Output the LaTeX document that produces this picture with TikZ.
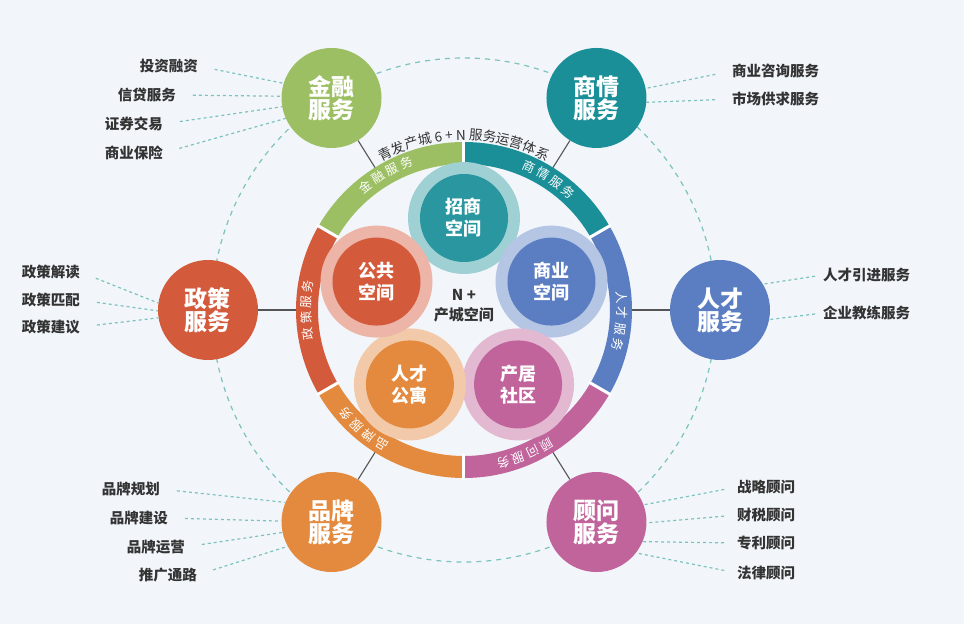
\documentclass[tikz,border=0pt]{standalone}
\usepackage{fontspec}
\setmainfont{Noto Sans CJK SC}
\usetikzlibrary{decorations.text}
\definecolor{cgreen}{HTML}{9CBF63}
\definecolor{cteal}{HTML}{1B8F98}
\definecolor{cblue}{HTML}{5B7EC2}
\definecolor{cpink}{HTML}{C0649B}
\definecolor{corange}{HTML}{E48A3F}
\definecolor{cred}{HTML}{D45A3C}
\definecolor{cspace}{HTML}{2A97A0}
\definecolor{ctext}{HTML}{333333}
\definecolor{cdash}{HTML}{7CC2BE}
\definecolor{clink}{HTML}{555555}
\definecolor{cbg}{HTML}{F2F6FA}
\newcommand\svcfont{\fontsize{23}{23}\selectfont\bfseries}
\newcommand\spcfont{\fontsize{18}{22}\selectfont\bfseries}
\newcommand\itemfont{\fontsize{14.5}{16}\selectfont\bfseries}
\newcommand\ringfont{\fontsize{12.5}{12.5}\selectfont}
\newcommand\titlefont{\fontsize{13.5}{14}\selectfont}
\tikzset{
  every picture/.style={x=1pt, y=1pt},
  svc/.style={circle, fill=#1, minimum size=100pt, inner sep=0pt, align=center, text=white, font=\svcfont},
  halo/.style={circle, fill=#1!45, minimum size=112pt, inner sep=0pt},
  spc/.style={circle, fill=#1, minimum size=88pt, inner sep=0pt, align=center, text=white, font=\spcfont},
  item/.style={inner sep=0pt, text=ctext, font=\itemfont},
  lead/.style={draw=cdash, line width=1.2pt, dash pattern=on 3pt off 3pt, shorten <=17pt},
  orbit/.style={draw=cdash, line width=1.2pt, dash pattern=on 5pt off 5pt},
  link/.style={draw=clink, line width=1.1pt},
  seg/.style={draw=#1, line width=22pt},
}

\begin{document}
\begin{tikzpicture}
  \fill[cbg] (-464,-314) rectangle (500,310);
  \draw[orbit] (0,0) circle[radius=252];

  % ring of six services
  \draw[seg=cgreen]  (150:157) arc[start angle=150, end angle=90, radius=157];
  \draw[seg=cteal]   (90:157) arc[start angle=90, end angle=30, radius=157];
  \draw[seg=cblue]   (30:157) arc[start angle=30, end angle=-30, radius=157];
  \draw[seg=cpink]   (-30:157) arc[start angle=-30, end angle=-90, radius=157];
  \draw[seg=corange] (270:157) arc[start angle=270, end angle=210, radius=157];
  \draw[seg=cred]    (210:157) arc[start angle=210, end angle=150, radius=157];
  \foreach \a in {30,90,...,330}
    \draw[white, line width=3pt] (\a:144) -- (\a:170);

  \path[decorate, decoration={text along path, text align=center, text color=white, text={|\ringfont|金 融 服 务}}]
    (145:153) arc[start angle=145, end angle=95, radius=153];
  \path[decorate, decoration={text along path, text align=center, text color=white, text={|\ringfont|商 情 服 务}}]
    (82:153) arc[start angle=82, end angle=32, radius=153];
  \path[decorate, decoration={text along path, text align=center, text color=white, text={|\ringfont|人 才 服 务}}]
    (21:153) arc[start angle=21, end angle=-29, radius=153];
  \path[decorate, decoration={text along path, text align=center, text color=white, text={|\ringfont|顾 问 服 务}}]
    (318:153) arc[start angle=318, end angle=268, radius=153];
  \path[decorate, decoration={text along path, text align=center, text color=white, text={|\ringfont|品 牌 服 务}}]
    (255:153) arc[start angle=255, end angle=205, radius=153];
  \path[decorate, decoration={text along path, text align=center, text color=white, text={|\ringfont|政 策 服 务}}]
    (205:153) arc[start angle=205, end angle=155, radius=153];
  \path[decorate, decoration={text along path, text align=center, text color=ctext, text={|\titlefont|青发产城 6 + N 服务运营体系}}]
    (135:170) arc[start angle=135, end angle=45, radius=170];

  % N + spaces
  \node[halo=cspace] (h1) at (90:92) {};
  \node[halo=cblue] (h2) at (18:92) {};
  \node[halo=cpink] (h3) at (-54:92) {};
  \node[halo=corange] (h4) at (234:92) {};
  \node[halo=cred] (h5) at (162:92) {};
  \node[spc=cspace] (s1) at (90:92) {招商\\空间};
  \node[spc=cblue] (s2) at (18:92) {商业\\空间};
  \node[spc=cpink] (s3) at (-54:92) {产居\\社区};
  \node[spc=corange] (s4) at (234:92) {人才\\公寓};
  \node[spc=cred] (s5) at (162:92) {公共\\空间};
  \node[align=center, text=ctext, font=\fontsize{15}{20}\selectfont\bfseries] (core) at (0,4) {N +\\产城空间};

  % service circles
  \node[svc=cgreen] (fin) at (122:250) {金融\\服务};
  \node[svc=cteal] (biz) at (58:250) {商情\\服务};
  \node[svc=cblue] (tal) at (0:256) {人才\\服务};
  \node[svc=cpink] (con) at (-58:250) {顾问\\服务};
  \node[svc=corange] (brd) at (238:250) {品牌\\服务};
  \node[svc=cred] (pol) at (180:256) {政策\\服务};
  \coordinate (r1) at (122:168);
  \coordinate (r2) at (58:168);
  \coordinate (r3) at (0:168);
  \coordinate (r4) at (-58:168);
  \coordinate (r5) at (238:168);
  \coordinate (r6) at (180:168);
  \draw[link] (fin) -- (r1);
  \draw[link] (biz) -- (r2);
  \draw[link] (tal) -- (r3);
  \draw[link] (con) -- (r4);
  \draw[link] (brd) -- (r5);
  \draw[link] (pol) -- (r6);

  % items
  \node[item, anchor=east] (f1) at (-266,244) {投资融资};
  \node[item, anchor=east] (f2) at (-288,215) {信贷服务};
  \node[item, anchor=east] (f3) at (-301,186) {证券交易};
  \node[item, anchor=east] (f4) at (-301,157) {商业保险};
  \draw[lead] (f1.east) -- (fin.163);
  \draw[lead] (f2.east) -- (fin.178);
  \draw[lead] (f3.east) -- (fin.190);
  \draw[lead] (f4.east) -- (fin.204);

  \node[item, anchor=west] (b1) at (268,239) {商业咨询服务};
  \node[item, anchor=west] (b2) at (268,211) {市场供求服务};
  \draw[lead] (b1.west) -- (biz.11);
  \draw[lead] (b2.west) -- (biz.-5);

  \node[item, anchor=west] (t1) at (359,35) {人才引进服务};
  \node[item, anchor=west] (t2) at (359,-3) {企业教练服务};
  \draw[lead, shorten <=8pt] (t1.west) -- (tal.31);
  \draw[lead, shorten <=8pt] (t2.west) -- (tal.-11);

  \node[item, anchor=east] (p1) at (-384,38) {政策解读};
  \node[item, anchor=east] (p2) at (-384,10) {政策匹配};
  \node[item, anchor=east] (p3) at (-384,-17) {政策建议};
  \draw[lead] (p1.east) -- (pol.172);
  \draw[lead] (p2.east) -- (pol.181);
  \draw[lead] (p3.east) -- (pol.189);

  \node[item, anchor=east] (d1) at (-304,-179) {品牌规划};
  \node[item, anchor=east] (d2) at (-296,-208) {品牌建设};
  \node[item, anchor=east] (d3) at (-279,-237) {品牌运营};
  \node[item, anchor=east] (d4) at (-267,-265) {推广通路};
  \draw[lead] (d1.east) -- (brd.157);
  \draw[lead] (d2.east) -- (brd.179);
  \draw[lead] (d3.east) -- (brd.192);
  \draw[lead] (d4.east) -- (brd.209);

  \node[item, anchor=west] (c1) at (273,-177) {战略顾问};
  \node[item, anchor=west] (c2) at (273,-205) {财税顾问};
  \node[item, anchor=west] (c3) at (273,-233) {专利顾问};
  \node[item, anchor=west] (c4) at (273,-263) {法律顾问};
  \draw[lead, shorten <=13pt] (c1.west) -- (con.20);
  \draw[lead, shorten <=13pt] (c2.west) -- (con.-1);
  \draw[lead, shorten <=13pt] (c3.west) -- (con.-23);
  \draw[lead, shorten <=13pt] (c4.west) -- (con.-38);
\end{tikzpicture}
\end{document}
